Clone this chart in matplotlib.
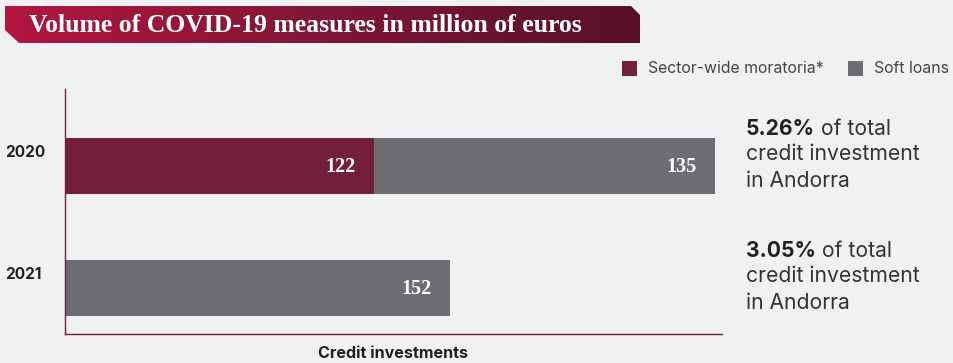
import numpy as np
from matplotlib import pyplot
from matplotlib.colors import LinearSegmentedColormap
from matplotlib.patches import Polygon

years = ["2020", "2021"]
moratoria = [122, 0]
soft_loans = [135, 152]
share_pct = ["5.26%", "3.05%"]
series_names = ["Sector-wide moratoria*", "Soft loans"]
title = "Volume of COVID-19 measures in million of euros"
xlabel = "Credit investments"

BG = "#f0f1f3"
MAROON = "#72203a"
GREY = "#6d6e71"
INK = "#231f20"
SANS = ["Inter", "DejaVu Sans"]
SERIF = ["Liberation Serif", "DejaVu Serif"]

W, H = 954, 363


def main():
    fig = pyplot.figure(figsize=(W / 100, H / 100), dpi=100, facecolor=BG)

    # pixel-space overlay for the banner and legend
    over = fig.add_axes([0, 0, 1, 1], zorder=-1)
    over.set_xlim(0, W)
    over.set_ylim(H, 0)
    over.axis("off")

    banner = Polygon(
        [(5, 6), (631, 6), (640, 15), (640, 43), (19, 43), (5, 30)],
        closed=True, facecolor="none", edgecolor="none",
    )
    over.add_patch(banner)
    grad = np.linspace(0, 1, 256).reshape(1, -1)
    cmap = LinearSegmentedColormap.from_list("banner", ["#b3163f", "#7f1736", "#571027"])
    img = over.imshow(grad, cmap=cmap, extent=(5, 640, 43, 6), aspect="auto")
    img.set_clip_path(banner)
    over.text(29, 25, title, color="white", fontsize=18.5, fontweight="bold",
              family=SERIF, va="center", ha="left")

    # legend swatches
    for x0, name, col in [(622, series_names[0], MAROON), (848, series_names[1], GREY)]:
        over.add_patch(pyplot.Rectangle((x0, 61), 15, 15, color=col, lw=0))
        over.text(x0 + 26, 68.5, name, color="#444446", fontsize=11.4,
                  family=SANS, va="center", ha="left")

    ax = fig.add_axes([65 / W, 29 / H, (722 - 65) / W, (334 - 89) / H])
    ax.set_facecolor(BG)
    pos = np.arange(len(years))
    ax.barh(pos, moratoria, height=0.46, color=MAROON, lw=0)
    ax.barh(pos, soft_loans, left=moratoria, height=0.46, color=GREY, lw=0)
    ax.set_xlim(0, 259.7)
    ax.set_ylim(1.377, -0.631)

    for i in range(len(years)):
        ends = []
        if moratoria[i]:
            ends.append((moratoria[i], moratoria[i]))
        ends.append((moratoria[i] + soft_loans[i], soft_loans[i]))
        for end, val in ends:
            ax.annotate(str(val), xy=(end, pos[i]), xytext=(-13, -1),
                        textcoords="offset points", ha="right", va="center",
                        color="white", fontsize=14.5, fontweight="bold", family=SERIF)

        ax.annotate(years[i], xy=(5 / W, pos[i]), xycoords=("figure fraction", "data"),
                    xytext=(0, 9.5), textcoords="offset points", ha="left", va="center",
                    color=INK, fontsize=11, fontweight="bold", family=SANS)

        head = ax.annotate(share_pct[i], xy=(746 / W, pos[i]),
                           xycoords=("figure fraction", "data"),
                           xytext=(0, 26.5), textcoords="offset points", ha="left",
                           va="center", color=INK, fontsize=15.2, fontweight="bold",
                           family=SANS)
        ax.annotate(" of total", xy=(1, 0), xycoords=head, ha="left", va="bottom",
                    color="#333335", fontsize=15.2, family=SANS)
        ax.annotate("credit investment\nin Andorra", xy=(746 / W, pos[i]),
                    xycoords=("figure fraction", "data"), xytext=(0, 15.5),
                    textcoords="offset points", ha="left", va="top",
                    color="#333335", fontsize=15.2, family=SANS, linespacing=1.42,
                    annotation_clip=False)

    for side in ["top", "right"]:
        ax.spines[side].set_visible(False)
    for side in ["left", "bottom"]:
        ax.spines[side].set_color(MAROON)
        ax.spines[side].set_linewidth(1)
    ax.set_xticks([])
    ax.set_yticks([])
    ax.set_xlabel(xlabel, fontsize=11.6, fontweight="bold", family=SANS,
                  color=INK, labelpad=9)

    fig.savefig("out.png", dpi=100, facecolor=BG)


if __name__ == "__main__":
    main()
